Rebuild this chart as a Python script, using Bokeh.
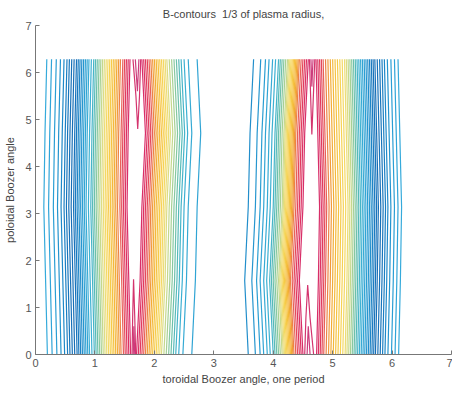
from bokeh.plotting import figure
from bokeh.models import FixedTicker, ColumnDataSource, Range1d
from bokeh.embed import file_html
from bokeh.resources import INLINE

# poloidal sample heights for every contour line
y_samples = [0.0, 1.57, 3.14, 4.71, 6.28]

# colour of each contour level (low B -> high B)
level_colors = [
    "#35aadb", "#2fa4d8", "#2a9ed4", "#2494ce", "#1e88c8", "#1a7ec2", "#1775bb",
    "#1670b8", "#166eb6", "#1772ba", "#1a7ac0", "#1d84c6", "#228ecb", "#2696cf",
    "#2a9ed2", "#30a4d4", "#36aad4", "#3cb0d2",
    "#46b4c8", "#56bab8", "#6cc0aa", "#86c8a0",
    "#a6d094", "#c4d88c", "#dcdc84",
    "#ecdc74", "#f4d862", "#f6d254", "#f6ca48", "#f5c240", "#f4b83a", "#f2ac36",
    "#f09a3a", "#ec8244",
    "#e86058", "#e4485a", "#e03a5e", "#dc3262", "#d82e68",
    "#d4346e", "#cc3c7c",
]

# left structure: rising flank (levels 0..38), x at y = pi
left_rise_levels = list(range(0, 39))
left_rise_x = [0.14, 0.22, 0.30, 0.37, 0.43, 0.48, 0.52, 0.56, 0.60, 0.64,
               0.67, 0.70, 0.73, 0.76, 0.79, 0.82, 0.85, 0.89, 0.93, 0.96,
               0.99, 1.02, 1.05, 1.08, 1.11, 1.14, 1.17, 1.20, 1.23, 1.26,
               1.29, 1.32, 1.35, 1.38, 1.42, 1.45, 1.48, 1.51, 1.54]
left_rise_shift = [0.06, 0.03, 0.0, 0.02, 0.05]

# left structure: falling flank (levels 15..38)
left_fall_levels = list(range(15, 39))
left_fall_x = [2.72, 2.57, 2.50, 2.45, 2.41, 2.37, 2.33, 2.29, 2.25, 2.21,
               2.18, 2.15, 2.12, 2.09, 2.06, 2.03, 2.00, 1.97, 1.94, 1.91,
               1.88, 1.85, 1.82, 1.79]
left_fall_shift = [-0.09, -0.03, 0.0, 0.06, 0.0]

# right structure: rising flank (levels 12..38)
right_rise_levels = list(range(12, 39))
right_rise_x = [3.58, 3.70, 3.78, 3.84, 3.90, 3.95, 4.00, 4.03, 4.06, 4.09,
                4.12, 4.15, 4.17, 4.19, 4.21, 4.23, 4.25, 4.27, 4.29, 4.31,
                4.33, 4.35, 4.38, 4.41, 4.44, 4.47, 4.50]
right_rise_shift = [0.0, -0.06, 0.0, 0.03, 0.09]

# right structure: falling flank (levels 0..38)
right_fall_levels = list(range(0, 39))
right_fall_x = [6.16, 6.10, 6.04, 5.98, 5.93, 5.89, 5.85, 5.81, 5.77, 5.74,
                5.71, 5.68, 5.65, 5.62, 5.59, 5.56, 5.53, 5.50, 5.47, 5.44,
                5.41, 5.38, 5.35, 5.32, 5.29, 5.26, 5.22, 5.18, 5.14, 5.10,
                5.06, 5.02, 4.98, 4.94, 4.90, 4.87, 4.84, 4.81, 4.78]
right_fall_shift = [-0.05, -0.02, 0.0, -0.03, -0.06]

# closed tongues of the highest levels near the ridge tops
tongue_levels = [39, 40, 39, 40, 39, 40, 39, 40]
tongue_xs = [
    [1.625, 1.635, 1.65, 1.67, 1.685],
    [1.645, 1.655, 1.67],
    [1.64, 1.69, 1.72, 1.75, 1.77],
    [1.68, 1.715, 1.74],
    [4.61, 4.63, 4.65, 4.675, 4.70],
    [4.635, 4.65, 4.67],
    [4.53, 4.55, 4.58, 4.62, 4.68],
    [4.57, 4.59, 4.62],
]
tongue_ys = [
    [0.0, 0.8, 1.6, 0.8, 0.0],
    [0.0, 0.6, 0.0],
    [6.28, 5.5, 4.8, 5.5, 6.28],
    [6.28, 5.6, 6.28],
    [6.28, 5.48, 4.68, 5.48, 6.28],
    [6.28, 5.7, 6.28],
    [0.0, 0.78, 1.48, 0.78, 0.0],
    [0.0, 0.6, 0.0],
]

xs, ys, cols = [], [], []
for levels, xmid, shift in [
    (left_rise_levels, left_rise_x, left_rise_shift),
    (left_fall_levels, left_fall_x, left_fall_shift),
    (right_rise_levels, right_rise_x, right_rise_shift),
    (right_fall_levels, right_fall_x, right_fall_shift),
]:
    for lev, xm in zip(levels, xmid):
        xs.append([xm + s for s in shift])
        ys.append(list(y_samples))
        cols.append(level_colors[lev])
for lev, tx, ty in zip(tongue_levels, tongue_xs, tongue_ys):
    xs.append(tx)
    ys.append(ty)
    cols.append(level_colors[lev])

src = ColumnDataSource(dict(xs=xs, ys=ys, color=cols))

p = figure(width=452, height=393, x_range=Range1d(0, 7), y_range=Range1d(0, 7),
           output_backend="svg", toolbar_location=None,
           min_border_left=35, min_border_right=1, min_border_top=25, min_border_bottom=39,
           title="B-contours\u00a0 1/3 of plasma radius,")
p.multi_line(xs="xs", ys="ys", line_color="color", line_width=1.2, source=src)

p.title.align = "center"
p.title.vertical_align = "middle"
p.title.text_font = "Liberation Sans"
p.title.text_font_size = "11px"
p.title.text_font_style = "normal"
p.title.text_color = "#444444"

for ax in (p.xaxis, p.yaxis):
    ax.ticker = FixedTicker(ticks=[0, 1, 2, 3, 4, 5, 6, 7])
    ax.major_tick_in = 4
    ax.major_tick_out = 0
    ax.minor_tick_line_color = None
    ax.axis_line_color = "#777777"
    ax.major_tick_line_color = "#777777"
    ax.major_label_text_font = "Liberation Sans"
    ax.major_label_text_font_size = "11px"
    ax.major_label_text_color = "#555555"
    ax.axis_label_text_font = "Liberation Sans"
    ax.axis_label_text_font_size = "11px"
    ax.axis_label_text_font_style = "normal"
    ax.axis_label_text_color = "#444444"
    ax.major_label_standoff = 4

p.xaxis.axis_label = "toroidal Boozer angle, one period"
p.yaxis.axis_label = "poloidal Boozer angle"
p.xaxis.axis_label_standoff = 3
p.yaxis.axis_label_standoff = 6
p.grid.visible = False
p.outline_line_color = None
p.background_fill_color = "white"
p.border_fill_color = "white"

open("out.html", "w").write(file_html(p, INLINE))
